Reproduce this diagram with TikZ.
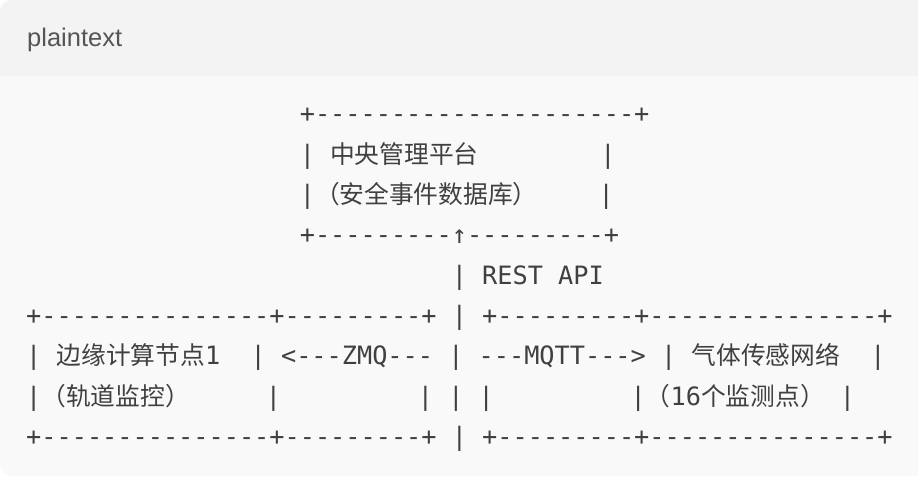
\documentclass[tikz,border=0pt]{standalone}
\usepackage{fontspec}
\usepackage{xcolor}
\usepackage{tikz}
\usetikzlibrary{positioning}
\setmainfont{Liberation Sans}
\setmonofont{DejaVu Sans Mono}
\newfontfamily\cjk[Scale=0.98]{Noto Sans CJK SC}
\definecolor{headbg}{HTML}{F3F3F3}
\definecolor{bodybg}{HTML}{F9F9F9}
\definecolor{codegray}{HTML}{404040}
\definecolor{labelgray}{HTML}{555555}

\begin{document}
\begin{tikzpicture}[x=1pt,y=-1pt,
  codeline/.style={anchor=base west,inner sep=0pt,text=codegray,
    font=\ttfamily\fontsize{25.25pt}{30pt}\selectfont},
  langlabel/.style={anchor=base west,inner sep=0pt,text=labelgray,
    font=\fontsize{25.5pt}{30pt}\selectfont}]
  \useasboundingbox (0,0) rectangle (918,478);
  \clip (0,0) rectangle (918,478);
  % code block panel
  \begin{scope}
    \clip[rounded corners=12pt] (0,0) rectangle (940,476);
    \fill[bodybg] (0,0) rectangle (940,476);
    \fill[headbg] (0,0) rectangle (940,76);
  \end{scope}
  \node[langlabel] (lang) at (27,47) {plaintext};
  % top box
  \node[codeline] (ln1) at (299.6,123)   {+---------------------+};
  \node[codeline] (ln2) at (299.6,163.3) {|~{\cjk 中央管理平台}~~~~~~~~|};
  \node[codeline] (ln3) at (299.6,203.6) {|{\cjk （安全事件数据库）}~~~~|};
  \node[codeline] (ln4) at (299.6,243.9) {+---------↑---------+};
  \node[codeline] (ln5) at (451.6,284.2) {|~REST~API};
  % lower boxes
  \foreach \n/\y in {ln6/324.5,ln9/445.4}{
    \node[codeline] (\n) at (26,\y) {+---------------+---------+~|~+---------+---------------+};
  }
  \node[codeline] (ln7) at (26,364.8) {|~{\cjk 边缘计算节点}1~~|~<---ZMQ---~|~---MQTT--->~|~{\cjk 气体传感网络}~~|};
  \node[codeline] (ln8) at (26,405.1) {|{\cjk （轨道监控）}~~~~~|~~~~~~~~~|~|~|~~~~~~~~~|{\cjk （}16{\cjk 个监测点）}~|};
\end{tikzpicture}
\end{document}
